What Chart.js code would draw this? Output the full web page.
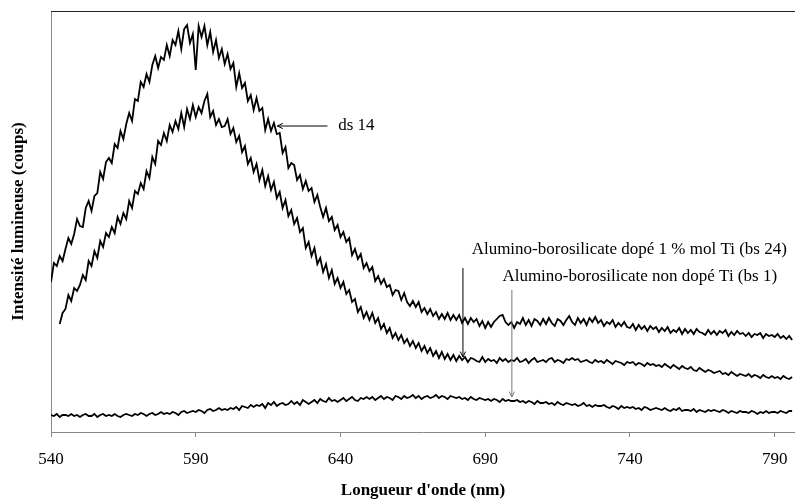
<!DOCTYPE html>
<html>
<head>
<meta charset="utf-8">
<script src="https://cdn.jsdelivr.net/npm/chart.js@4.4.1/dist/chart.umd.min.js"></script>
<style>
    html, body { margin: 0; padding: 0; background: #fff; }
    #wrap { width: 795px; height: 501px; }
</style>
</head>
<body>
<div id="wrap"><canvas id="chart"></canvas></div>
<script>
// longueur d'onde (nm), pas de 1 nm
const wavelengths = [
    540,541,542,543,544,545,546,547,548,549,
    550,551,552,553,554,555,556,557,558,559,
    560,561,562,563,564,565,566,567,568,569,
    570,571,572,573,574,575,576,577,578,579,
    580,581,582,583,584,585,586,587,588,589,
    590,591,592,593,594,595,596,597,598,599,
    600,601,602,603,604,605,606,607,608,609,
    610,611,612,613,614,615,616,617,618,619,
    620,621,622,623,624,625,626,627,628,629,
    630,631,632,633,634,635,636,637,638,639,
    640,641,642,643,644,645,646,647,648,649,
    650,651,652,653,654,655,656,657,658,659,
    660,661,662,663,664,665,666,667,668,669,
    670,671,672,673,674,675,676,677,678,679,
    680,681,682,683,684,685,686,687,688,689,
    690,691,692,693,694,695,696,697,698,699,
    700,701,702,703,704,705,706,707,708,709,
    710,711,712,713,714,715,716,717,718,719,
    720,721,722,723,724,725,726,727,728,729,
    730,731,732,733,734,735,736,737,738,739,
    740,741,742,743,744,745,746,747,748,749,
    750,751,752,753,754,755,756,757,758,759,
    760,761,762,763,764,765,766,767,768,769,
    770,771,772,773,774,775,776,777,778,779,
    780,781,782,783,784,785,786,787,788,789,
    790,791,792,793,794,795,796
];

// ds 14
const ds14 = [
    150,169,166,176,171,183,194,188,198,213,
    206,205,224,231,221,236,239,260,253,270,
    274,269,288,284,301,293,308,319,311,333,
    331,350,345,358,350,367,376,364,375,372,
    387,376,392,387,401,383,403,407,389,398,
    362,406,395,406,387,400,380,392,374,383,
    368,378,363,369,345,359,344,349,331,337,
    322,334,321,324,302,313,301,309,298,299,
    279,285,264,269,267,252,257,243,251,241,
    244,230,237,225,215,224,211,215,202,207,
    195,200,190,194,177,183,173,178,164,169,
    161,165,151,156,148,153,145,147,137,142,
    141,132,139,130,126,131,125,130,120,124,
    118,123,116,120,113,118,113,119,112,117,
    112,117,109,114,108,114,110,113,106,111,
    104,110,105,110,113,116,117,110,107,110,
    104,110,108,114,107,112,106,113,111,107,
    113,108,114,109,106,113,111,107,112,116,
    110,107,114,109,113,107,114,110,115,109,
    112,106,110,108,112,105,109,106,110,105,
    104,108,102,107,103,106,101,106,103,105,
    100,104,101,105,99,102,100,104,98,103,
    99,102,98,103,100,99,97,102,98,101,
    97,101,99,102,96,100,97,101,98,99,
    96,99,95,98,97,99,94,98,96,97,
    95,98,94,96,93,96,92
];

// Alumino-borosilicate dopé 1 % mol Ti (bs 24)
const bs24 = [
    null,null,null,108,119,123,137,131,144,141,
    147,157,152,171,166,181,174,191,185,199,
    195,205,199,215,208,219,213,231,224,241,
    238,249,243,261,254,275,268,291,287,299,
    291,307,300,311,303,319,305,323,313,327,
    315,325,319,331,338,315,321,307,313,305,
    306,313,298,304,290,296,280,286,268,274,
    260,268,252,262,246,256,242,250,234,240,
    224,232,216,222,208,214,200,204,184,190,
    176,184,168,174,160,168,154,162,148,154,
    144,150,138,142,130,133,120,125,114,120,
    112,119,109,114,103,108,99,104,94,99,
    92,97,89,93,86,91,84,89,81,86,
    79,84,76,81,74,80,73,78,72,77,
    71,76,72,75,70,74,73,71,70,75,
    70,73,71,72,69,74,71,73,70,72,
    71,74,70,71,73,69,72,74,70,71,
    72,70,73,74,70,72,71,69,73,72,
    74,72,73,70,71,72,70,69,72,70,
    71,69,72,70,68,71,70,69,67,70,
    69,70,67,69,68,66,69,67,68,66,
    67,65,68,66,64,67,65,63,66,64,
    63,65,62,61,64,62,60,62,61,59,
    60,61,58,59,57,60,58,56,58,57,
    56,58,55,57,56,54,57,55,54,56,
    54,55,53,56,54,53,55
];

// Alumino-borosilicate non dopé Ti (bs 1)
const bs1 = [
    17,16,18,15,17,17,16,18,16,17,
    15,17,18,16,16,18,15,17,18,16,
    17,16,18,16,15,17,18,17,16,18,
    17,19,18,16,18,19,17,18,20,18,
    19,18,20,19,17,20,21,19,20,21,
    20,22,21,19,22,23,21,22,24,22,
    23,22,24,23,25,22,26,25,24,27,
    25,27,26,28,24,29,27,30,26,28,
    29,27,28,31,28,30,27,32,30,28,
    30,32,29,33,31,30,34,31,32,30,
    32,34,31,33,35,32,31,34,33,35,
    33,35,32,34,36,33,35,34,32,36,
    35,33,36,34,35,37,34,36,33,35,
    36,34,35,37,34,36,35,33,36,35,
    34,35,33,34,32,35,33,32,34,33,
    32,33,31,33,32,30,33,31,32,31,
    31,32,30,31,29,31,30,28,31,29,
    29,30,28,29,27,30,28,27,29,28,
    27,28,26,27,29,26,27,25,27,26,
    26,27,25,24,26,25,23,26,24,25,
    24,25,23,24,22,25,24,22,23,24,
    23,22,24,22,21,23,22,24,21,22,
    22,21,23,20,22,21,20,22,21,22,
    21,20,22,21,19,21,20,19,21,20,
    20,19,21,20,18,20,19,21,19,20,
    20,19,21,20,19,21,21
];

const xTicks = [540, 590, 640, 690, 740, 790];

const serif = "'Liberation Serif', 'Times New Roman', serif";

// annotations (positions en unités des axes)
const notes = [
    { text: 'ds 14', tx: 639.2, ty: 306, align: 'left',
      from: [635.5, 306], to: [618.2, 306], color: '#000' },
    { text: 'Alumino-borosilicate dopé 1 % mol Ti (bs 24)', tx: 794.2, ty: 182, align: 'right',
      from: [682.3, 164], to: [682.3, 75], color: '#000' },
    { text: 'Alumino-borosilicate non dopé Ti (bs 1)', tx: 790.8, ty: 155, align: 'right',
      from: [699.2, 142], to: [699.2, 35], color: '#777' }
];

function toPoints(ys) {
    return wavelengths.map((x, i) => ({ x: x, y: ys[i] }));
}

const annotationPlugin = {
    id: 'notes',
    afterDatasetsDraw(chart) {
        const ctx = chart.ctx;
        const xs = chart.scales.x;
        const ys = chart.scales.y;
        const area = chart.chartArea;

        // cadre du haut
        ctx.save();
        ctx.strokeStyle = '#222';
        ctx.lineWidth = 1;
        ctx.beginPath();
        ctx.moveTo(area.left, Math.round(area.top) + 0.5);
        ctx.lineTo(area.right, Math.round(area.top) + 0.5);
        ctx.stroke();

        notes.forEach(n => {
            const x1 = xs.getPixelForValue(n.from[0]);
            const y1 = ys.getPixelForValue(n.from[1]);
            const x2 = xs.getPixelForValue(n.to[0]);
            const y2 = ys.getPixelForValue(n.to[1]);
            ctx.strokeStyle = n.color;
            ctx.lineWidth = 1;
            ctx.beginPath();
            ctx.moveTo(x1, y1);
            ctx.lineTo(x2, y2);
            const ang = Math.atan2(y2 - y1, x2 - x1);
            const len = 6;
            ctx.moveTo(x2 - len * Math.cos(ang - 0.45), y2 - len * Math.sin(ang - 0.45));
            ctx.lineTo(x2, y2);
            ctx.lineTo(x2 - len * Math.cos(ang + 0.45), y2 - len * Math.sin(ang + 0.45));
            ctx.stroke();

            ctx.fillStyle = '#000';
            ctx.font = '17px ' + serif;
            ctx.textAlign = n.align;
            ctx.textBaseline = 'middle';
            ctx.fillText(n.text, xs.getPixelForValue(n.tx), ys.getPixelForValue(n.ty));
        });
        ctx.restore();
    }
};

const lineStyle = {
    borderColor: '#000',
    borderWidth: 1.8,
    pointRadius: 0,
    tension: 0,
    fill: false,
    spanGaps: false
};

new Chart(document.getElementById('chart').getContext('2d'), {
    type: 'line',
    data: {
        datasets: [
            Object.assign({ label: 'ds 14', data: toPoints(ds14) }, lineStyle),
            Object.assign({ label: 'bs 24', data: toPoints(bs24) }, lineStyle),
            Object.assign({ label: 'bs 1', data: toPoints(bs1) }, lineStyle)
        ]
    },
    options: {
        responsive: true,
        maintainAspectRatio: false,
        animation: false,
        layout: { padding: { top: 11, right: 0, left: 0, bottom: 0 } },
        plugins: {
            legend: { display: false },
            tooltip: { enabled: false }
        },
        scales: {
            x: {
                type: 'linear',
                min: 540,
                max: 797,
                afterBuildTicks: s => { s.ticks = xTicks.map(v => ({ value: v })); },
                afterFit: s => { s.height = 69; s.paddingLeft = 0; s.paddingRight = 0; },
                ticks: {
                    color: '#000',
                    font: { family: serif, size: 17 },
                    padding: 12,
                    maxRotation: 0
                },
                grid: {
                    display: true,
                    drawOnChartArea: false,
                    drawTicks: true,
                    tickLength: 5,
                    color: '#888'
                },
                border: { display: true, color: '#888', width: 1 },
                title: {
                    display: true,
                    text: "Longueur d'onde (nm)",
                    color: '#000',
                    font: { family: serif, size: 17, weight: 'bold' },
                    padding: { top: 0, bottom: 0 }
                }
            },
            y: {
                type: 'linear',
                min: 0,
                max: 421,
                afterFit: s => { s.width = 51; },
                ticks: { display: false },
                grid: { display: true, drawOnChartArea: false, drawTicks: false },
                border: { display: true, color: '#888', width: 1 },
                title: {
                    display: true,
                    text: 'Intensité lumineuse (coups)',
                    color: '#000',
                    font: { family: serif, size: 17, weight: 'bold' },
                    padding: { top: 8, bottom: 0 }
                }
            }
        }
    },
    plugins: [annotationPlugin]
});
</script>
</body>
</html>
